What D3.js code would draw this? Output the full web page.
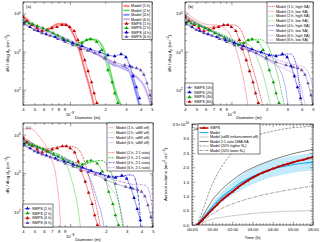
<!DOCTYPE html>
<html>
<head>
<meta charset="utf-8">
<title>SMPS vs model</title>
<script src="https://d3js.org/d3.v7.min.js"></script>
<style>
body{margin:0;background:#fff}
text{font-family:"Liberation Sans",Arial,sans-serif}
</style>
</head>
<body>
<div id="chart"></div>
<script>
// SMPS size distributions, [diameter (nm), dN/dlogdp (cm-3)]
var smps1h=[[4.0,8050],[4.32,6330],[4.77,5000],[5.26,4140],[5.8,3460],[6.4,3680],[7.05,4140],[7.78,4400],[8.58,5000],[9.3,5000],[10,4400],[10.9,3460],[11.7,2010],[12.4,1160],[13.4,600],[14.3,308],[15.3,158],[16.1,81],[17,45]];
var smps2h=[[4.16,5960],[4.5,5500],[4.82,5280],[5.3,4700],[5.92,4140],[6.5,3600],[7.2,3060],[7.9,2650],[8.7,2260],[9.6,1950],[10.5,1670],[11.5,1490],[12.7,1670],[13.9,2010],[15,2130],[16.9,1780],[18.7,1100],[19.9,677],[21.1,327],[22.9,158],[24.1,81],[25.6,45]];
var smps4h=[[4.08,5610],[4.59,4400],[5.36,3460],[6.3,2880],[7.5,2410],[8.9,2010],[10.6,1670],[12.7,1400],[15,1160],[18,973],[21.1,811],[24.1,764],[27.3,861],[30,718],[32.4,417],[34.6,228],[36.8,117],[39.1,60]];
var smps6h=[[4.08,5280],[5,3680],[5.8,3050],[6.8,2600],[7.9,2150],[9.1,1780],[10.6,1480],[12.2,1240],[14.2,1060],[16.3,918],[19.9,677],[24.1,530],[29.4,443],[33.8,393],[37,370],[40,327],[42.6,250],[45.3,148],[48,72],[50,42]];

// (a) model runs
var modelA1=[[4,8600],[4.6,5900],[5.35,4140],[6.15,3680],[7.05,4400],[7.9,5300],[8.9,5300],[10,4140],[11,2400],[12.2,980],[13.4,330],[14.8,110],[16.1,38]];
var modelA2=[[4,7200],[5,5000],[6.8,3300],[9.1,2130],[11,1670],[12.7,1780],[14.8,2130],[17,2010],[19.2,1250],[21.1,530],[23.3,158],[25.6,60],[27.3,40]];
var modelA4=[[4,7000],[5,4800],[6.8,3200],[9.1,2200],[12.2,1450],[15,1050],[18,800],[21.1,560],[24.5,430],[29,400],[32.4,290],[35,140],[37.5,62],[39,40]];
var modelA6=[[4,7000],[5,4800],[6.8,3200],[9.1,2200],[12.2,1400],[16.3,900],[21.9,560],[26.6,400],[32.4,290],[38,200],[42.6,130],[46,72],[49,40]];

// (b) high / low surface area
var highSA1=[[4,9000],[5,5500],[6.15,4300],[7.5,4600],[9.1,5000],[10.5,5000],[11.5,4400],[12.8,2400],[13.8,1100],[14.8,500],[16.3,180],[17.5,80],[18.5,40]];
var lowSA1=[[4,11600],[4.6,8000],[5.6,5600],[6.8,5000],[7.5,5000],[8.25,4600],[9.1,3700],[10,2400],[11,1100],[12.2,330],[13,130],[13.8,40]];
var highSA2=[[4,8000],[5,5600],[6.8,3700],[9.1,2500],[11,1900],[12.7,1700],[14.8,1950],[16.9,2130],[19,1900],[21.1,1200],[23.3,500],[25.6,170],[27.3,70],[28.4,40]];
var lowSA2=[[4,9500],[5,6000],[6.8,3600],[9.1,2300],[11,1700],[12.7,1650],[14.2,1500],[16,900],[18,350],[19.9,120],[21.5,40]];
var highSA4=[[4,7500],[5,5200],[6.8,3400],[9.1,2300],[12.2,1500],[16.3,1050],[21.9,820],[26.6,800],[30,870],[32.4,860],[35,600],[37,280],[38.5,110],[39.8,40]];
var lowSA4=[[4,9000],[5,5800],[6.8,3500],[9.1,2200],[12.2,1400],[16.3,900],[21.9,560],[25,400],[27.5,220],[29.4,90],[30.5,40]];
var highSA6=[[4,7500],[5,5200],[6.8,3400],[9.1,2300],[12.2,1450],[16.3,1000],[21.9,700],[29.4,520],[35.7,450],[40,420],[44,330],[47.9,190],[50,110]];
var lowSA6=[[4,9000],[5,5800],[6.8,3500],[9.1,2200],[12.2,1350],[16.3,850],[21.9,520],[27,380],[32,300],[36,230],[39.4,120],[41.5,60],[43,40]];

// (c) vdW off / 2:1 ratio
var vdw1=[[4,13900],[4.6,14500],[5.2,11000],[5.8,7000],[6.4,4400],[7.0,2200],[7.48,1100],[7.8,450],[8.1,150],[8.3,40]];
var vdw2=[[4,7000],[5,5200],[6.15,4100],[7.48,3300],[8.25,3000],[9.1,2000],[10,900],[10.8,380],[11.5,150],[12.2,40]];
var vdw4=[[4,6500],[5,4900],[6.8,3200],[9.1,2100],[11,1600],[13,1300],[14.5,800],[15.8,400],[17,190],[18,115],[19.3,40]];
var vdw6=[[4,6500],[5,4900],[6.8,3200],[9.1,2100],[12.2,1400],[15,1100],[18,880],[20,600],[21.9,420],[24,280],[25.5,190],[26.6,115],[28,55],[28.4,40]];
var ratio1=[[4,9000],[4.8,6000],[5.6,4600],[6.5,4300],[7.5,4700],[8.8,5000],[10,5000],[11.5,4400],[12.8,2600],[14,1100],[15.3,400],[16.6,140],[18,40]];
var ratio2=[[4,8000],[5,5600],[6.8,3700],[9.1,2500],[11,1900],[13,1700],[15.5,1950],[18,2150],[20,1800],[22,1100],[24,450],[26,150],[27.9,40]];
var ratio4=[[4,7500],[5,5200],[6.8,3400],[9.1,2300],[12.2,1500],[16.3,1050],[21.9,830],[27,820],[31,900],[33.8,880],[35.7,650],[37.2,300],[38.5,120],[39.4,40]];
var ratio6=[[4,7500],[5,5200],[6.8,3400],[9.1,2300],[12.2,1450],[16.3,1000],[21.9,720],[29.4,560],[36,500],[41,500],[44,470],[46.5,330],[48.5,170],[50,90]];

// (d) aerosol volume vs time (h)
var volT=[0.25,0.5,0.75,1,1.25,1.5,1.75,2,2.25,2.5,2.75,3,3.25,3.5,3.75,4,4.25,4.5,4.75,5,5.25,5.5,5.75,6];
var volSMPS=[0,0.16,0.35,0.53,0.71,0.88,1.02,1.15,1.29,1.42,1.53,1.64,1.73,1.81,1.88,1.95,2.01,2.07,2.12,2.17,2.22,2.26,2.31,2.35];
var runT=[0.25,0.5,1,1.5,2,2.5,3,3.5,4,4.5,5,5.5,6];
var volModel=[0,0.2,0.62,0.98,1.25,1.5,1.68,1.83,1.94,2.02,2.09,2.14,2.18];
var volModelLo=[0,0.15,0.5,0.8,1.03,1.24,1.41,1.55,1.66,1.74,1.81,1.86,1.9];
var volModelHi=[0,0.24,0.75,1.17,1.48,1.76,1.96,2.12,2.24,2.33,2.4,2.45,2.49];
var volVdwOff=[0,0.08,0.2,0.27,0.32,0.36,0.4,0.43,0.45,0.47,0.48,0.49,0.5];
var volRatio=[0,0.27,0.85,1.25,1.55,1.8,1.98,2.13,2.26,2.37,2.47,2.55,2.62];
var volHighN=[0,0.45,1.4,2.05,2.5,2.85,3.05,3.17,3.25,3.32,3.37,3.4,3.43];
var volLowN=[0,0.12,0.38,0.58,0.73,0.85,0.95,1.04,1.11,1.18,1.24,1.3,1.35];

var xTicks=[4,5,6,7,8,9,10,20,30,40,50];
var xTickText=["4","5","6","7","8","9","","2","3","4","5"];
var yTicks=[40,50,60,70,80,90,100,200,300,400,500,600,700,800,900,1000,2000,3000,4000,5000,6000,7000,8000,9000,10000,20000];
var yDecades=[2,3,4];
var hourTicks=[0,1,2,3,4,5,6];
var hourText=["00:00","01:00","02:00","03:00","04:00","05:00","06:00"];
var volTicks=[0,0.5,1,1.5,2,2.5,3];

var svg=d3.select("#chart").append("svg").attr("width",320).attr("height",242);
var FS=4.2;

function styleAxis(a,major,factor){
  a.select(".domain").remove();
  a.attr("font-size",FS).attr("font-family","Liberation Sans, Arial, sans-serif");
  a.selectAll(".tick line").attr("stroke-width",0.4).each(function(d){
    if(major(d)){
      var s=d3.select(this);
      if(s.attr("x2")!=null) s.attr("x2",+s.attr("x2")*factor);
      if(s.attr("y2")!=null) s.attr("y2",+s.attr("y2")*factor);
    }
  });
}

function frame(g,x,y,L,R,T,B,xt,yt,xMajor,yMajor,xFmt,yFmt){
  var a;
  a=g.append("g").attr("transform","translate(0,"+B+")")
    .call(d3.axisBottom(x).tickValues(xt).tickSizeInner(-1.8).tickSizeOuter(0).tickPadding(3).tickFormat(xFmt));
  styleAxis(a,xMajor,1.8);
  a=g.append("g").attr("transform","translate(0,"+T+")")
    .call(d3.axisTop(x).tickValues(xt).tickSizeInner(-1.8).tickSizeOuter(0).tickFormat(""));
  styleAxis(a,xMajor,1.8);
  a=g.append("g").attr("transform","translate("+L+",0)")
    .call(d3.axisLeft(y).tickValues(yt).tickSizeInner(-1.8).tickSizeOuter(0).tickPadding(3).tickFormat(yFmt));
  styleAxis(a,yMajor,1.8);
  a=g.append("g").attr("transform","translate("+R+",0)")
    .call(d3.axisRight(y).tickValues(yt).tickSizeInner(-1.8).tickSizeOuter(0).tickFormat(""));
  styleAxis(a,yMajor,1.8);
  g.append("rect").attr("x",L).attr("y",T).attr("width",R-L).attr("height",B-T)
    .attr("fill","none").attr("stroke","#000").attr("stroke-width",0.6);
}

function powText(g,px,py,base,exp,anchor){
  var t=g.append("text").attr("x",px).attr("y",py).attr("font-size",FS).attr("text-anchor",anchor);
  t.append("tspan").text(base);
  t.append("tspan").attr("dy",-1.7).attr("font-size",3.2).text(exp);
  return t;
}

function logPanel(id,L,R,T,B,letter){
  var x=d3.scaleLog().domain([4e-9,5e-8]).range([L,R]);
  var y=d3.scaleLog().domain([40,2e4]).range([B,T]);
  var g=svg.append("g");
  svg.append("clipPath").attr("id","clip"+id).append("rect")
    .attr("x",L).attr("y",T).attr("width",R-L).attr("height",B-T);
  var plot=g.append("g").attr("clip-path","url(#clip"+id+")");
  var isDec=function(v){ var l=Math.log10(v); return Math.abs(l-Math.round(l))<1e-6; };
  frame(g,x,y,L,R,T,B,xTicks.map(function(v){return v*1e-9;}),yTicks,isDec,isDec,
    function(d,i){return xTickText[i];},function(){return "";});
  powText(g,x(1e-8),B+11,"10","\u22128","middle");
  yDecades.forEach(function(k){ powText(g,L-2.5,y(Math.pow(10,k))+2,"10",""+k,"end"); });
  g.append("text").attr("x",(L+R)/2).attr("y",B+14).attr("text-anchor","middle")
    .attr("font-size",4.4).text("Diameter (m)");
  var yl=g.append("text").attr("transform","translate("+(L-14)+","+((T+B)/2)+") rotate(-90)")
    .attr("text-anchor","middle").attr("font-size",4.4);
  yl.append("tspan").text("dN / dlog d");
  yl.append("tspan").attr("dy",1.2).attr("font-size",3.3).text("p");
  yl.append("tspan").attr("dy",-1.2).text(" (cm");
  yl.append("tspan").attr("dy",-1.7).attr("font-size",3.3).text("\u22123");
  yl.append("tspan").attr("dy",1.7).text(")");
  g.append("text").attr("x",L+3).attr("y",T+6).attr("font-size",4.2).text(letter);
  var line=d3.line().x(function(d){return x(d[0]*1e-9);}).y(function(d){return y(d[1]);}).curve(d3.curveMonotoneX);
  return {x:x,y:y,g:g,plot:plot,line:line};
}

function curve(p,data,color,width,dash,opacity){
  p.plot.append("path").datum(data).attr("d",p.line).attr("fill","none")
    .attr("stroke",color).attr("stroke-width",width).attr("stroke-dasharray",dash||null)
    .attr("stroke-opacity",opacity==null?1:opacity);
}

var tri=d3.symbol().type(d3.symbolTriangle).size(5.5);
function smps(p,data,color){
  curve(p,data,color,0.45);
  p.plot.selectAll(null).data(data).enter().append("path")
    .attr("transform",function(d){return "translate("+p.x(d[0]*1e-9)+","+p.y(d[1])+")";})
    .attr("d",tri).attr("fill",color);
}

function legend(g,bx,by,bw,bh,items,rowY,sample,fs){
  g.append("rect").attr("x",bx).attr("y",by).attr("width",bw).attr("height",bh)
    .attr("fill","#fff").attr("stroke","#000").attr("stroke-width",0.5);
  items.forEach(function(it,i){
    var yy=rowY[i];
    if(it.color){
      if(it.band) g.append("line").attr("x1",bx+1.5).attr("x2",bx+1.5+sample).attr("y1",yy).attr("y2",yy)
        .attr("stroke",it.band).attr("stroke-width",it.bandW||2.2);
      g.append("line").attr("x1",bx+1.5).attr("x2",bx+1.5+sample).attr("y1",yy).attr("y2",yy)
        .attr("stroke",it.color).attr("stroke-width",it.w||0.7).attr("stroke-dasharray",it.dash||null);
    }
    if(it.marker) g.append("path").attr("transform","translate("+(bx+1.5+sample/2)+","+yy+")")
      .attr("d",tri).attr("fill",it.marker);
    g.append("text").attr("x",bx+3+sample).attr("y",yy+1.3).attr("font-size",fs).text(it.label);
  });
}

var C={r:"#c00000",g:"#00a000",b:"#0000c0",p:"#6e52a8"};
var band={r:"#ffb0b0",g:"#b0f0b0",b:"#b0b6ff",p:"#e0cdf6"};
var core={r:"#ff4040",g:"#30c830",b:"#4d5cff",p:"#b48ee2"};
var dot={r:"#e00000",g:"#00b000",b:"#0000e0",p:"#b070e0"};
var light={r:"#ff9a9a",g:"#8fe08f",b:"#9aa0ff",p:"#d8b8f4"};

// ---------- (a)
var pa=logPanel("a",23,152,2,105,"(a)");
[[modelA1,"r"],[modelA2,"g"],[modelA4,"b"],[modelA6,"p"]].forEach(function(m){
  curve(pa,m[0],band[m[1]],2.4);
  curve(pa,m[0],core[m[1]],0.7);
});
smps(pa,smps1h,C.r); smps(pa,smps2h,C.g); smps(pa,smps4h,C.b); smps(pa,smps6h,C.p);
legend(pa.g,122,2,30,37.5,[
  {label:"Model (1 h)",color:core.r,band:band.r},
  {label:"Model (2 h)",color:core.g,band:band.g},
  {label:"Model (4 h)",color:core.b,band:band.b},
  {label:"Model (6 h)",color:core.p,band:band.p},
  {label:"SMPS (1 h)",color:C.r,w:0.5,marker:C.r},
  {label:"SMPS (2 h)",color:C.g,w:0.5,marker:C.g},
  {label:"SMPS (4 h)",color:C.b,w:0.5,marker:C.b},
  {label:"SMPS (6 h)",color:C.p,w:0.5,marker:C.p}
],[6,10.4,14.8,19.2,23.6,28,32.4,36.8],6,3.8);

// ---------- (b)
var pb=logPanel("b",185,313,2,105,"(b)");
[[lowSA1,"r"],[lowSA2,"g"],[lowSA4,"b"],[lowSA6,"p"]].forEach(function(m){ curve(pb,m[0],light[m[1]],0.8); });
[[highSA1,"r"],[highSA2,"g"],[highSA4,"b"],[highSA6,"p"]].forEach(function(m){ curve(pb,m[0],dot[m[1]],0.8,"0.9,0.9"); });
smps(pb,smps1h,C.r); smps(pb,smps2h,C.g); smps(pb,smps4h,C.b); smps(pb,smps6h,C.p);
legend(pb.g,267,2,46,41,[
  {label:"Model (1 h, high SA)",color:dot.r,dash:"0.9,0.9"},
  {label:"Model (1 h, low SA)",color:light.r},
  {label:"Model (2 h, high SA)",color:dot.g,dash:"0.9,0.9"},
  {label:"Model (2 h, low SA)",color:light.g},
  {label:"Model (4 h, high SA)",color:dot.b,dash:"0.9,0.9"},
  {label:"Model (4 h, low SA)",color:light.b},
  {label:"Model (6 h, high SA)",color:dot.p,dash:"0.9,0.9"},
  {label:"Model (6 h, low SA)",color:light.p}
],[6.5,11.3,16.1,20.9,25.7,30.5,35.3,40],6,3.7);
legend(pb.g,185,83,28,22,[
  {label:"SMPS (1h)",color:C.p,w:0.5,marker:C.p},
  {label:"SMPS (2h)",color:C.b,w:0.5,marker:C.b},
  {label:"SMPS (4h)",color:C.g,w:0.5,marker:C.g},
  {label:"SMPS (6h)",color:C.r,w:0.5,marker:C.r}
],[87.5,92.3,97.1,101.8],6,3.8);

// ---------- (c)
var pc=logPanel("c",23,153,123,227,"(c)");
[[vdw1,"r"],[vdw2,"g"],[vdw4,"b"],[vdw6,"p"]].forEach(function(m){ curve(pc,m[0],light[m[1]],0.8); });
var rDash={r:"0.8,0.8",g:"2,1",b:"2,0.8,0.6,0.8",p:"2,0.8,0.6,0.8"};
[[ratio1,"r"],[ratio2,"g"],[ratio4,"b"],[ratio6,"p"]].forEach(function(m){ curve(pc,m[0],dot[m[1]],0.8,rDash[m[1]]); });
smps(pc,smps1h,C.r); smps(pc,smps2h,C.g); smps(pc,smps4h,C.b); smps(pc,smps6h,C.p);
legend(pc.g,107,123,46,48,[
  {label:"Model (1 h, vdW off)",color:light.r},
  {label:"Model (2 h, vdW off)",color:light.g},
  {label:"Model (4 h, vdW off)",color:light.b},
  {label:"Model (6 h, vdW off)",color:light.p},
  {label:""},
  {label:"Model (1 h, 2:1 ratio)",color:dot.r,dash:rDash.r},
  {label:"Model (2 h, 2:1 ratio)",color:dot.g,dash:rDash.g},
  {label:"Model (4 h, 2:1 ratio)",color:dot.b,dash:rDash.b},
  {label:"Model (6 h, 2:1 ratio)",color:dot.p,dash:rDash.p}
],[127.7,132.7,137.7,142.7,147.7,152.7,157.7,162.7,167.7],6,3.7);
legend(pc.g,23,204,30,23,[
  {label:"SMPS (1 h)",color:C.b,w:0.5,marker:C.b},
  {label:"SMPS (2 h)",color:C.g,w:0.5,marker:C.g},
  {label:"SMPS (4 h)",color:C.r,w:0.5,marker:C.r},
  {label:"SMPS (6 h)",color:C.p,w:0.5,marker:C.p}
],[208.5,213.3,218.1,222.9],6,3.8);

// ---------- (d)
(function(){
  var L=192,R=313,T=124,B=225;
  var x=d3.scaleLinear().domain([0,6]).range([L,R]);
  var y=d3.scaleLinear().domain([0,3.5]).range([B,T]);
  var g=svg.append("g");
  svg.append("clipPath").attr("id","clipd").append("rect").attr("x",L).attr("y",T).attr("width",R-L).attr("height",B-T);
  var plot=g.append("g").attr("clip-path","url(#clipd)");
  var xt=d3.range(0,36.5).map(function(i){return i/6;});
  var yt=d3.range(0,35.5).map(function(i){return i/10;});
  var near=function(step){return function(v){return Math.abs(v/step-Math.round(v/step))<1e-6;};};
  frame(g,x,y,L,R,T,B,xt,yt,near(1),near(0.5),
    function(d){ var i=hourTicks.indexOf(Math.round(d)); return (Math.abs(d-Math.round(d))<1e-6&&i>=0)?hourText[i]:""; },
    function(d){ var i=volTicks.findIndex(function(v){return Math.abs(v-d)<1e-6;}); return i>=0?volTicks[i].toFixed(1):""; });
  powText(g,L-3,y(3.5)+2,"3.5\u00d710","10","end");
  g.append("text").attr("x",(L+R)/2).attr("y",B+14).attr("text-anchor","middle").attr("font-size",4.4).text("Time (h)");
  var yl=g.append("text").attr("transform","translate("+(L-25)+","+((T+B)/2)+") rotate(-90)")
    .attr("text-anchor","middle").attr("font-size",4.4);
  yl.append("tspan").text("Aerosol volume (nm");
  yl.append("tspan").attr("dy",-1.7).attr("font-size",3.3).text("3");
  yl.append("tspan").attr("dy",1.7).text(" cm");
  yl.append("tspan").attr("dy",-1.7).attr("font-size",3.3).text("\u22123");
  yl.append("tspan").attr("dy",1.7).text(")");
  g.append("text").attr("x",L+2).attr("y",T+6).attr("font-size",4.2).text("(d)");

  var lineOf=function(vals,ts){ return d3.line().x(function(d,i){return x(ts[i]);}).y(function(d){return y(d);}).curve(d3.curveMonotoneX)(vals); };
  plot.append("path").attr("d",d3.area().x(function(d,i){return x(runT[i]);})
      .y0(function(d,i){return y(volModelLo[i]);}).y1(function(d){return y(d);}).curve(d3.curveMonotoneX)(volModelHi))
    .attr("fill","#c4ebfb");
  plot.append("path").attr("d",lineOf(volVdwOff,runT)).attr("fill","none").attr("stroke","#bdbdbd").attr("stroke-width",0.8);
  plot.append("path").attr("d",lineOf(volLowN,runT)).attr("fill","none").attr("stroke","#555").attr("stroke-width",0.6).attr("stroke-dasharray","3,1,0.8,1");
  plot.append("path").attr("d",lineOf(volHighN,runT)).attr("fill","none").attr("stroke","#555").attr("stroke-width",0.6).attr("stroke-dasharray","2.5,1.2");
  plot.append("path").attr("d",lineOf(volRatio,runT)).attr("fill","none").attr("stroke","#444").attr("stroke-width",0.7);
  plot.append("path").attr("d",lineOf(volModel,runT)).attr("fill","none").attr("stroke","#1ab0ee").attr("stroke-width",1.1);
  plot.append("path").attr("d",lineOf(volSMPS,volT)).attr("fill","none").attr("stroke","#a00000").attr("stroke-width",1.8);
  plot.selectAll(null).data(volSMPS).enter().append("path")
    .attr("transform",function(d,i){return "translate("+x(volT[i])+","+y(d)+")";})
    .attr("d",d3.symbol().type(d3.symbolTriangle).size(4)).attr("fill","#e00000");

  legend(g,198,124,62,30,[
    {label:"SMPS",color:"#a00000",w:1.4,marker:"#e00000"},
    {label:"Model",color:"#1ab0ee",w:1.1},
    {label:"Model (vdW enhancement off)",color:"#bdbdbd",w:0.8},
    {label:"Model 2:1 ratio DMA:SA",color:"#444",w:0.7},
    {label:"Model (20% higher N\u2080)",color:"#555",w:0.6,dash:"2.5,1.2"},
    {label:"Model (20% lower N\u2080)",color:"#555",w:0.6,dash:"3,1,0.8,1"}
  ],[128,132.5,137,141.5,146,150.5],9,3.6);
})();
</script>
</body>
</html>
